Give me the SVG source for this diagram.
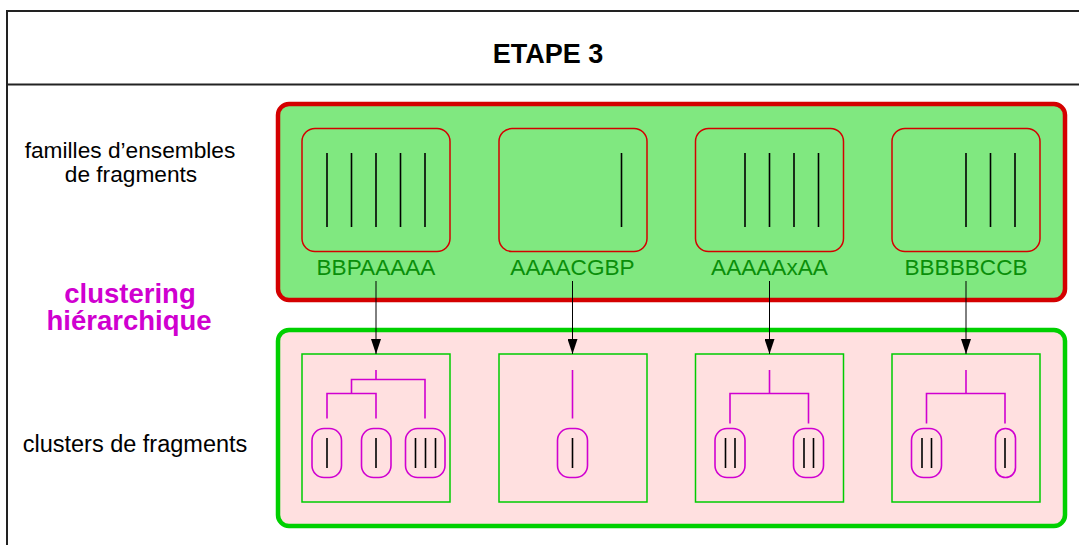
<svg xmlns="http://www.w3.org/2000/svg" width="1079" height="545" viewBox="0 0 1079 545">
<defs>
<marker id="ah" markerWidth="16" markerHeight="10" refX="15" refY="5" orient="auto" markerUnits="userSpaceOnUse" viewBox="0 0 16 10">
<path d="M0,0 L15,5 L0,10 Z" fill="#000"/>
</marker>
<style>
.frame{fill:none;stroke:#222;stroke-width:2}
.lab{font-family:"Liberation Sans",Arial,sans-serif;font-size:22.7px;fill:#000;text-anchor:middle}
.title{font-family:"Liberation Sans",Arial,sans-serif;font-size:27px;font-weight:bold;fill:#000;text-anchor:middle}
.mag{font-family:"Liberation Sans",Arial,sans-serif;font-size:27.5px;font-weight:bold;fill:#d000d0;text-anchor:middle}
.seq{font-family:"Liberation Sans",Arial,sans-serif;font-size:22.6px;fill:#0a8f0a;text-anchor:middle}
.redbox{fill:none;stroke:#d40000;stroke-width:1.5}
.frag{stroke:#000;stroke-width:1.6}
.clbox{fill:none;stroke:#00cc00;stroke-width:1.5}
.den{fill:none;stroke:#d000d0;stroke-width:1.6}
.pill{fill:none;stroke:#d000d0;stroke-width:1.6}
.conn{stroke:#000;stroke-width:1;fill:none}
</style>
</defs>
<rect x="0" y="0" width="1079" height="545" fill="#fff"/>
<g id="frame">
<path class="frame" d="M7,546 L7,11 L1080,11 M7,84.5 L1080,84.5"/>
<text class="title" x="548" y="63">ETAPE 3</text>
</g>
<g id="labels">
<text class="lab" x="130" y="157.5">familles d’ensembles</text>
<text class="lab" x="131" y="182">de fragments</text>
<text class="mag" x="130" y="303">clustering</text>
<text class="mag" x="129" y="329.5">hiérarchique</text>
<text class="lab" x="135" y="452" style="font-size:23.5px">clusters de fragments</text>
</g>
<g id="families-panel">
<rect x="278" y="104" width="787" height="196" rx="11" fill="#80e880" stroke="#d40000" stroke-width="4.5"/>
</g>
<g id="family1">
<rect class="redbox" x="302" y="128.5" width="148" height="123" rx="13"/>
<path class="frag" d="M327,153 V227 M351.5,153 V227 M376,153 V227 M400.5,153 V227 M425,153 V227"/>
<text class="seq" x="376" y="275">BBPAAAAA</text>
</g>
<g id="family2">
<rect class="redbox" x="499" y="128.5" width="148" height="123" rx="13"/>
<path class="frag" d="M621.5,153 V227"/>
<text class="seq" x="572.5" y="275">AAAACGBP</text>
</g>
<g id="family3">
<rect class="redbox" x="695.5" y="128.5" width="148" height="123" rx="13"/>
<path class="frag" d="M745,153 V227 M769.5,153 V227 M794,153 V227 M818.5,153 V227"/>
<text class="seq" x="769.5" y="275">AAAAAxAA</text>
</g>
<g id="family4">
<rect class="redbox" x="892" y="128.5" width="148" height="123" rx="13"/>
<path class="frag" d="M966,153 V227 M990.5,153 V227 M1015,153 V227"/>
<text class="seq" x="966" y="275">BBBBBCCB</text>
</g>
<g id="clusters-panel">
<rect x="278" y="330" width="787" height="196" rx="11" fill="#ffe0e0" stroke="#00d000" stroke-width="4.5"/>
</g>
<g id="cluster1">
<rect class="clbox" x="302" y="354" width="148" height="148"/>
<path class="den" d="M376,370 V379.5 M351.5,393.5 V379.5 H425 V418.5 M327,418.5 V393.5 H376 V418.5"/>
<rect class="pill" x="312" y="428.5" width="29.5" height="49" rx="12"/>
<rect class="pill" x="361.5" y="428.5" width="29.5" height="49" rx="12"/>
<rect class="pill" x="405.5" y="428.5" width="39.5" height="49" rx="12"/>
<path class="frag" d="M327,438 V468 M376,438 V468 M415.5,438 V468 M425.5,438 V468 M435.5,438 V468"/>
</g>
<g id="cluster2">
<rect class="clbox" x="499" y="354" width="148" height="148"/>
<path class="den" d="M572.5,370 V418.5"/>
<rect class="pill" x="557.5" y="428.5" width="30" height="49" rx="12"/>
<path class="frag" d="M572.5,438 V468"/>
</g>
<g id="cluster3">
<rect class="clbox" x="695.5" y="354" width="148" height="148"/>
<path class="den" d="M769.5,370 V393.5 M730,423.5 V393.5 H808.5 V423.5"/>
<rect class="pill" x="715" y="428.5" width="30" height="49" rx="12"/>
<rect class="pill" x="793.5" y="428.5" width="30" height="49" rx="12"/>
<path class="frag" d="M725.5,438 V468 M735,438 V468 M804,438 V468 M813.5,438 V468"/>
</g>
<g id="cluster4">
<rect class="clbox" x="892" y="354" width="148" height="148"/>
<path class="den" d="M966,370 V393.5 M926.5,423.5 V393.5 H1005 V423.5"/>
<rect class="pill" x="911.5" y="428.5" width="30" height="49" rx="12"/>
<rect class="pill" x="995.5" y="428.5" width="20" height="49" rx="10"/>
<path class="frag" d="M922,438 V468 M931.5,438 V468 M1005,438 V468"/>
</g>
<g id="connectors">
<path class="conn" d="M376,281 V354" marker-end="url(#ah)"/>
<path class="conn" d="M572.5,281 V354" marker-end="url(#ah)"/>
<path class="conn" d="M769.5,281 V354" marker-end="url(#ah)"/>
<path class="conn" d="M966,281 V354" marker-end="url(#ah)"/>
</g>
</svg>
